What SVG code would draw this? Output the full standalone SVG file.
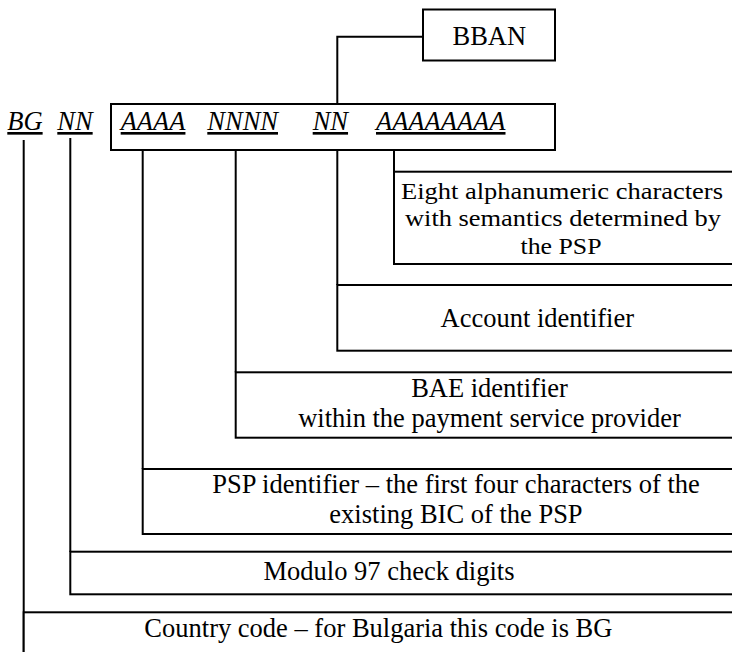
<svg xmlns="http://www.w3.org/2000/svg" width="732" height="652" viewBox="0 0 732 652">
<style>
.box{fill:#fff;stroke:#000;stroke-width:2}
.ln{fill:none;stroke:#000;stroke-width:2}
.t{font-family:'Liberation Serif','Times New Roman','DejaVu Serif',serif;font-size:26.5px;fill:#000}
.c{text-anchor:middle}
.code{font-style:italic;text-decoration:underline}
.s{font-size:24px}
</style>
<rect width="732" height="652" fill="#fff"/>
<g id="connectors">
<path class="ln" d="M423,36.7 H337.3 V104"/>
<path class="ln" d="M23.7,140 V660"/>
<path class="ln" d="M70.3,138 V552"/>
<path class="ln" d="M142.7,150 V469"/>
<path class="ln" d="M235.7,150 V372.3"/>
<path class="ln" d="M337.3,150 V285"/>
<path class="ln" d="M394,150 V171.7"/>
</g>
<g font-family="Liberation Serif, Times New Roman, DejaVu Serif, serif">
<g id="bban">
<rect class="box" x="423" y="9.5" width="132" height="51"/>
<text class="t c" x="489.3" y="45">BBAN</text>
</g>
<g id="codes-left">
<text class="t code" x="7.3" y="130">BG</text>
<text class="t code" x="57.3" y="130">NN</text>
</g>
<g id="main">
<rect class="box" x="111" y="104" width="444" height="46"/>
<text class="t code" x="120.7" y="130">AAAA</text>
<text class="t code" x="207.3" y="130">NNNN</text>
<text class="t code" x="312.7" y="130">NN</text>
<text class="t code" x="376" y="130">AAAAAAAA</text>
</g>
<g id="eight">
<rect class="box" x="394" y="171.7" width="350" height="92.3"/>
<text class="t c s" x="562" y="199" textLength="322" lengthAdjust="spacingAndGlyphs">Eight alphanumeric characters</text>
<text class="t c s" x="563" y="226.3" textLength="316" lengthAdjust="spacingAndGlyphs">with semantics determined by</text>
<text class="t c s" x="561" y="253.5" textLength="81" lengthAdjust="spacingAndGlyphs">the PSP</text>
</g>
<g id="account">
<rect class="box" x="337.3" y="285" width="410" height="65.7"/>
<text class="t c" x="537.3" y="326.7">Account identifier</text>
</g>
<g id="bae">
<rect class="box" x="235.7" y="372.3" width="510" height="65.4"/>
<text class="t c" x="489.5" y="396.7">BAE identifier</text>
<text class="t c" x="489.5" y="426.7">within the payment service provider</text>
</g>
<g id="psp">
<rect class="box" x="142.7" y="469" width="600" height="65"/>
<text class="t c" x="456" y="492.7">PSP identifier – the first four characters of the</text>
<text class="t c" x="456" y="523">existing BIC of the PSP</text>
</g>
<g id="modulo">
<rect class="box" x="70.3" y="551.7" width="680" height="42.6"/>
<text class="t c" x="389" y="580">Modulo 97 check digits</text>
</g>
<g id="country">
<rect class="box" x="23.7" y="612.3" width="730" height="60"/>
<text class="t c" x="378.4" y="636.7">Country code – for Bulgaria this code is BG</text>
</g>
</g>
</svg>
